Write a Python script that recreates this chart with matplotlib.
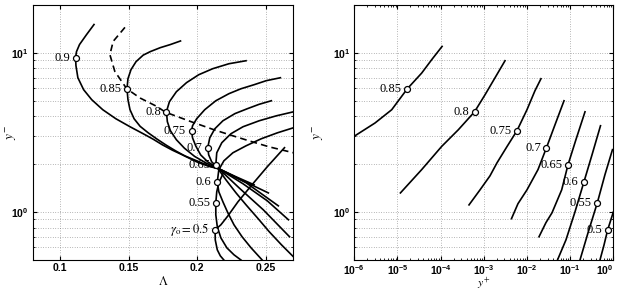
import numpy as np
import matplotlib
matplotlib.use('Agg')
import matplotlib.pyplot as plt
from matplotlib.transforms import ScaledTranslation

plt.rcParams['font.family'] = ['Liberation Sans', 'DejaVu Sans']
plt.rcParams['mathtext.fontset'] = 'stix'
plt.rcParams['font.size'] = 7.5

# ---- left panel: y- against Lambda, one curve per gamma_o ----
lam_090 = [0.1246, 0.1190, 0.1140, 0.1118, 0.1111, 0.1114, 0.1128, 0.1170, 0.1229, 0.1310, 0.1406,
           0.1509, 0.1605, 0.1679, 0.1745, 0.1819, 0.1907, 0.2003, 0.2084, 0.2158, 0.2284, 0.2416]
y_090 = [15.1, 13.0, 11.3, 10.2, 9.34, 8.32, 6.99, 5.88, 5.09, 4.40, 3.86,
         3.44, 3.11, 2.87, 2.65, 2.45, 2.26, 2.09, 1.955, 1.873, 1.667, 1.485]

lam_085 = [0.1878, 0.1804, 0.1730, 0.1657, 0.1605, 0.1553, 0.1516, 0.1494, 0.1487, 0.1494, 0.1509, 0.1539,
           0.1583, 0.1642, 0.1708, 0.1775, 0.1841, 0.1915, 0.1996, 0.2084, 0.2158, 0.2320, 0.2520]
y_085 = [11.9, 11.3, 10.8, 10.2, 9.69, 8.82, 7.85, 6.89, 5.96, 5.09, 4.40, 3.86,
         3.46, 3.15, 2.87, 2.63, 2.43, 2.24, 2.07, 1.94, 1.873, 1.596, 1.32]

lam_080 = [0.2357, 0.2232, 0.2114, 0.2011, 0.1922, 0.1848, 0.1797, 0.1775, 0.1782,
           0.1804, 0.1848, 0.1907, 0.1981, 0.2062, 0.2158, 0.2357, 0.2593]
y_080 = [8.94, 8.56, 7.97, 7.30, 6.51, 5.71, 4.94, 4.27, 3.70,
         3.25, 2.85, 2.52, 2.24, 2.04, 1.873, 1.53, 1.095]

lam_075 = [0.2608, 0.2505, 0.2416, 0.2320, 0.2232, 0.2136, 0.2055, 0.1996, 0.1966,
           0.1959, 0.1966, 0.1989, 0.2025, 0.2077, 0.2158, 0.2335, 0.2512, 0.2667]
y_075 = [6.99, 6.70, 6.32, 5.96, 5.55, 5.01, 4.40, 3.86, 3.49,
         3.25, 2.93, 2.61, 2.29, 2.07, 1.873, 1.507, 1.178, 0.895]

lam_070 = [0.2542, 0.2453, 0.2365, 0.2276, 0.2188, 0.2129, 0.2092, 0.2077, 0.2084, 0.2106, 0.2158, 0.2306, 0.2483, 0.2675]
y_070 = [5.01, 4.76, 4.46, 4.16, 3.75, 3.34, 2.93, 2.54, 2.29, 2.07, 1.873, 1.421, 1.034, 0.70]

lam_065 = [0.2704, 0.2579, 0.2453, 0.2335, 0.2247, 0.2180, 0.2143, 0.2136,
           0.2158, 0.2210, 0.2284, 0.2357, 0.2446, 0.2527, 0.2616, 0.2711]
y_065 = [4.27, 4.03, 3.75, 3.44, 3.11, 2.73, 2.36, 1.98,
         1.845, 1.596, 1.32, 1.111, 0.908, 0.752, 0.623, 0.516]

lam_060 = [0.2704, 0.2586, 0.2468, 0.2357, 0.2261, 0.2195, 0.2158, 0.2147,
           0.2158, 0.2188, 0.2224, 0.2269, 0.2328, 0.2394, 0.2475]
y_060 = [3.39, 3.15, 2.89, 2.61, 2.36, 2.10, 1.845, 1.55,
         1.342, 1.161, 0.99, 0.832, 0.70, 0.596, 0.50]

lam_055 = [0.2188, 0.2158, 0.2143, 0.2136, 0.2136, 0.2147, 0.2173, 0.2217, 0.2269, 0.2320]
y_055 = [1.741, 1.529, 1.342, 1.144, 0.962, 0.808, 0.689, 0.596, 0.539, 0.50]

lam_050 = [0.2638, 0.2512, 0.2394, 0.2298, 0.2225, 0.2173, 0.2131, 0.2132, 0.2147, 0.2169, 0.2195]
y_050 = [2.54, 1.927, 1.463, 1.161, 0.948, 0.832, 0.774, 0.669, 0.579, 0.531, 0.50]

# dashed curve through the turning points
dash_lam = [0.1472, 0.1386, 0.1362, 0.1398, 0.1485, 0.1583, 0.1706, 0.1767, 0.1952, 0.2124, 0.2259, 0.2394, 0.2527, 0.2704]
dash_y = [14.49, 11.83, 9.76, 7.66, 5.96, 5.21, 4.61, 4.25, 3.71, 3.29, 3.02, 2.78, 2.57, 2.36]

# labelled points
mark_lam = [0.1111, 0.1487, 0.1775, 0.1959, 0.2077, 0.2136, 0.2147, 0.2136, 0.2131]
mark_y = [9.34, 5.96, 4.27, 3.25, 2.54, 1.98, 1.55, 1.144, 0.774]
mark_txt_left = ['0.9', '0.85', '0.8', '0.75', '0.7', '0.65', '0.6', '0.55', r'$\gamma_{\rm o} = 0.5$']

# ---- right panel: y- against y+ ----
yp_085 = [1.0e-6, 3.01e-6, 7.35e-6, 1.69e-5, 3.64e-5, 6.21e-5, 1.08e-4]
ym_085 = [3.0, 3.63, 4.40, 5.96, 7.48, 9.08, 11.0]
yp_080 = [1.17e-5, 3.64e-5, 1.06e-4, 2.56e-4, 6.1e-4, 1.07e-3, 1.82e-3, 3.10e-3]
ym_080 = [1.32, 1.85, 2.59, 3.29, 4.27, 5.47, 6.99, 8.94]
yp_075 = [4.54e-4, 8.17e-4, 1.39e-3, 2.02e-3, 3.44e-3, 5.87e-3, 1.0e-2, 1.53e-2, 2.11e-2]
ym_075 = [1.11, 1.38, 1.69, 2.04, 2.58, 3.25, 4.40, 5.79, 6.89]
yp_070 = [4.38e-3, 6.19e-3, 1.0e-2, 1.80e-2, 2.83e-2, 4.46e-2, 7.21e-2]
ym_070 = [0.91, 1.13, 1.38, 1.85, 2.54, 3.54, 5.01]
yp_065 = [1.90e-2, 2.76e-2, 3.80e-2, 6.37e-2, 8.91e-2, 0.136, 0.221]
ym_065 = [0.70, 0.86, 0.99, 1.38, 1.98, 2.85, 4.27]
yp_060 = [5.09e-2, 8.02e-2, 0.129, 0.209, 0.321, 0.505]
ym_060 = [0.5, 0.67, 1.0, 1.55, 2.29, 3.49]
yp_055 = [0.169, 0.259, 0.426, 0.641, 0.957]
ym_055 = [0.5, 0.74, 1.144, 1.72, 2.47]
yp_050 = [0.491, 0.608, 0.741, 1.0]
ym_050 = [0.5, 0.62, 0.774, 1.0]

mark_yp = [1.69e-5, 6.1e-4, 5.87e-3, 2.83e-2, 8.91e-2, 0.209, 0.426, 0.741]
mark_ym = mark_y[1:]
mark_txt_right = ['0.85', '0.8', '0.75', '0.7', '0.65', '0.6', '0.55', '0.5']

left_curves = [(lam_090, y_090), (lam_085, y_085), (lam_080, y_080), (lam_075, y_075), (lam_070, y_070),
               (lam_065, y_065), (lam_060, y_060), (lam_055, y_055), (lam_050, y_050)]
right_curves = [(yp_085, ym_085), (yp_080, ym_080), (yp_075, ym_075), (yp_070, ym_070),
                (yp_065, ym_065), (yp_060, ym_060), (yp_055, ym_055), (yp_050, ym_050)]

fig = plt.figure(figsize=(6.19, 2.91), dpi=100)
ax1 = fig.add_axes([0.0533, 0.1065, 0.420, 0.876])
ax2 = fig.add_axes([0.5724, 0.1065, 0.4184, 0.876])

lw = 1.2
lab_font = dict(family=['Liberation Serif', 'DejaVu Serif'], fontsize=9)

for xx, yy in left_curves:
    ax1.plot(xx, yy, color='k', lw=lw)
ax1.plot(dash_lam, dash_y, color='k', lw=lw, ls=(0, (4, 2.5)))
ax1.plot(mark_lam, mark_y, 'o', ms=4.3, mfc='white', mec='k', mew=0.9, zorder=5)
for x, y, t in zip(mark_lam, mark_y, mark_txt_left):
    ax1.annotate(t, (x, y), xytext=(-4, 0), textcoords='offset points',
                 ha='right', va='center', **lab_font)

for xx, yy in right_curves:
    ax2.plot(xx, yy, color='k', lw=lw)
ax2.plot(mark_yp, mark_ym, 'o', ms=4.3, mfc='white', mec='k', mew=0.9, zorder=5)
for x, y, t in zip(mark_yp, mark_ym, mark_txt_right):
    ax2.annotate(t, (x, y), xytext=(-4, 0), textcoords='offset points',
                 ha='right', va='center', **lab_font)

ax1.set_yscale('log')
ax1.set_xlim(0.08, 0.27)
ax1.set_ylim(0.5, 20)
ax1.set_xticks([0.1, 0.15, 0.2, 0.25])
ax1.set_xticklabels(['0.1', '0.15', '0.2', '0.25'])

ax2.set_xscale('log')
ax2.set_yscale('log')
ax2.set_xlim(1e-6, 1)
ax2.set_ylim(0.5, 20)
ax2.set_xticks([1e-6, 1e-5, 1e-4, 1e-3, 1e-2, 1e-1, 1])

for ax in (ax1, ax2):
    ax.set_yticks([1, 10])
    ax.grid(True, which='major', ls=(0, (1, 2.5)), color='0.45', lw=0.5)
    ax.yaxis.grid(True, which='minor', ls=(0, (1, 2.5)), color='0.45', lw=0.5)
    ax.tick_params(which='both', direction='in', top=True, right=True, pad=3)
    ax.tick_params(axis='x', which='both', pad=2)
    ax.tick_params(which='major', length=3)
    ax.tick_params(which='minor', length=1.6)
    for s in ax.spines.values():
        s.set_linewidth(0.8)
    ax.set_axisbelow(True)
    # bold tick labels, like the MATLAB export
    for t in ax.xaxis.get_major_ticks() + ax.yaxis.get_major_ticks():
        t.label1.set_fontweight('bold')

# last decade label sits at the right edge of the figure
last = ax2.xaxis.get_major_ticks()[-1].label1
last.set_transform(last.get_transform() + ScaledTranslation(-6 / 72, 0, fig.dpi_scale_trans))

ax1.set_xlabel(r'$\Lambda$', fontsize=9)
ax2.set_xlabel(r'$y^{+}$', fontsize=8.5)
ax1.set_ylabel(r'$y^{-}$', fontsize=9.5)
ax2.set_ylabel(r'$y^{-}$', fontsize=9.5)
for ax in (ax1, ax2):
    ax.xaxis.label.set_va('top')
ax1.xaxis.set_label_coords(0.5, -0.06)
ax2.xaxis.set_label_coords(0.5, -0.061)
ax1.yaxis.set_label_coords(-0.055, 0.5)
ax2.yaxis.set_label_coords(-0.109, 0.5)

fig.savefig('out.png', dpi=100)
